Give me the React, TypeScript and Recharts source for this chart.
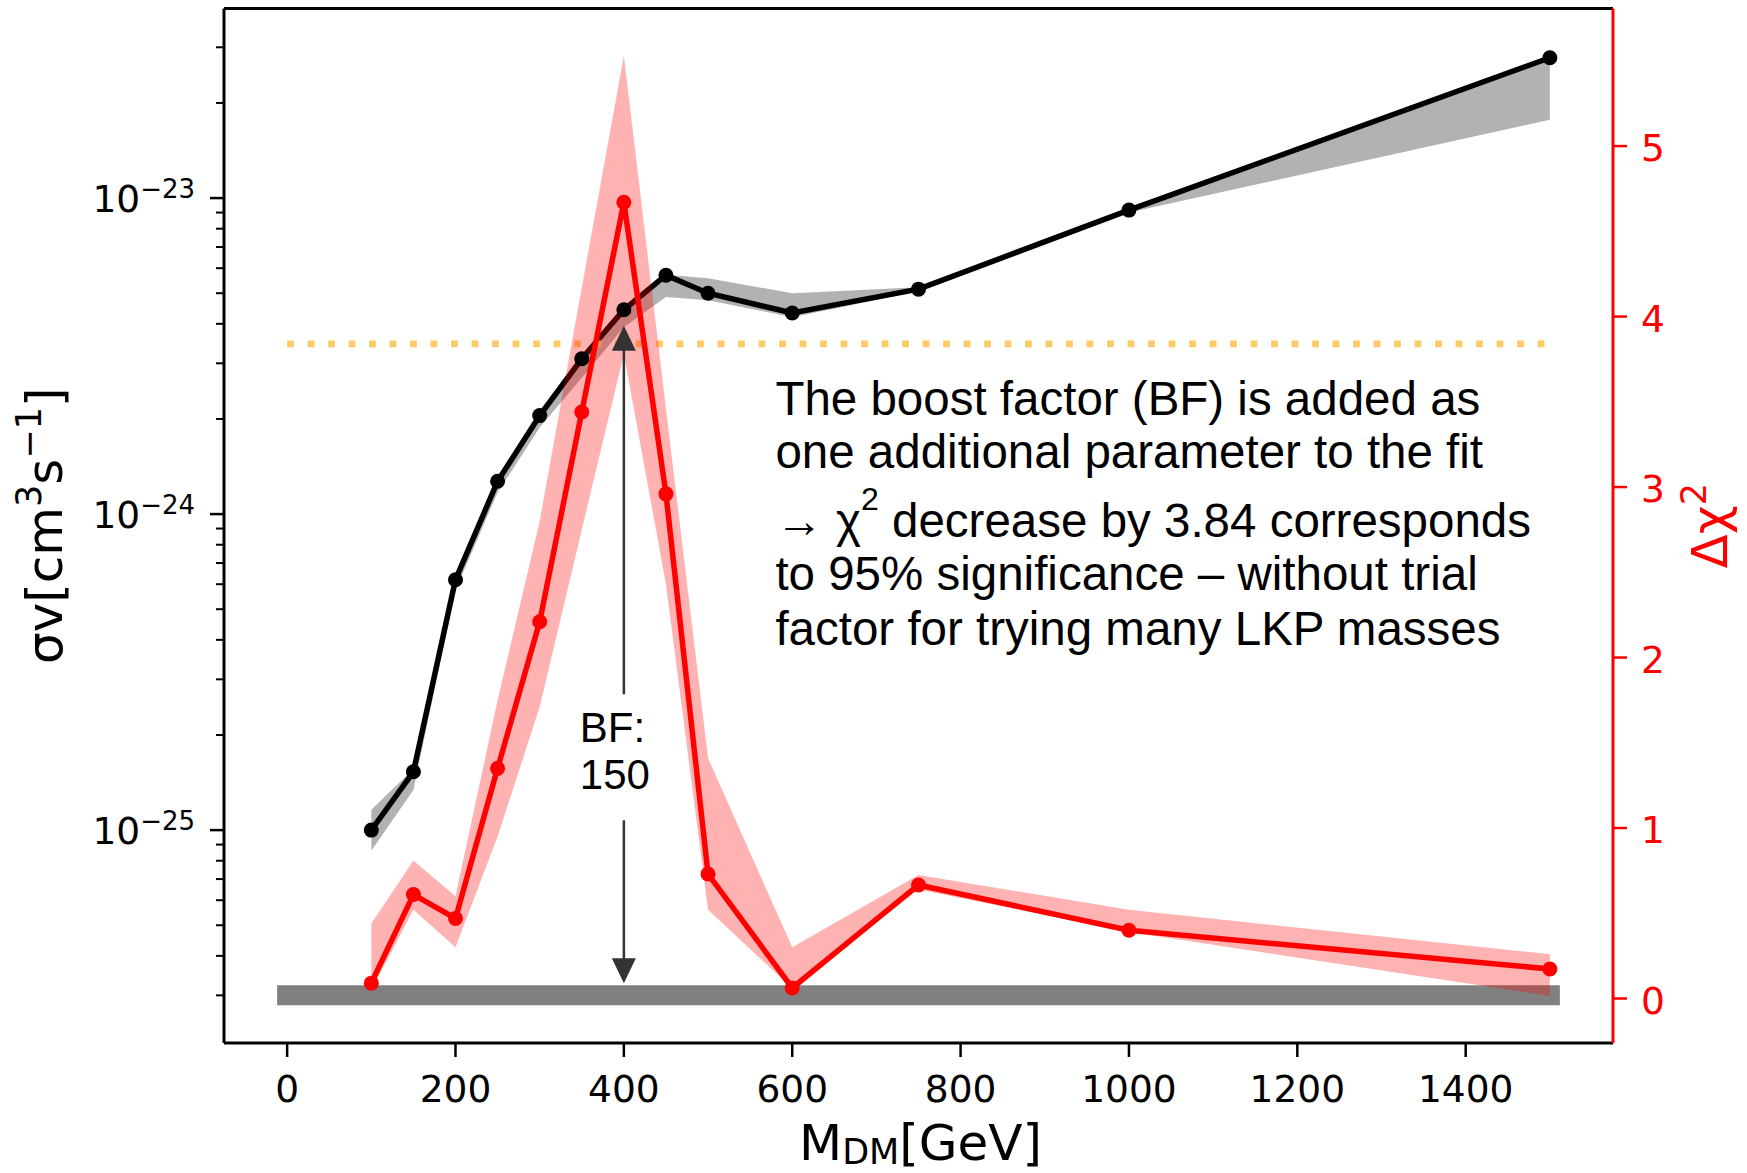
import React from 'react';
import { ComposedChart, Line, Area, XAxis, YAxis, ReferenceLine, ReferenceDot } from 'recharts';

// ---------------- data ----------------
const masses = [100, 150, 200, 250, 300, 350, 400, 450, 500, 600, 750, 1000, 1500];

// sigma v [cm^3 s^-1] (left, log axis)
const sigmaV = [1.0e-25, 1.53e-25, 6.2e-25, 1.27e-24, 2.05e-24, 3.1e-24, 4.43e-24, 5.7e-24, 5.0e-24, 4.33e-24, 5.15e-24, 9.16e-24, 2.78e-23];
const sigmaLow = [8.6e-26, 1.34e-25, 5.75e-25, 1.17e-24, 1.88e-24, 2.7e-24, 3.9e-24, 4.86e-24, 4.75e-24, 4.2e-24, 5.07e-24, 9.0e-24, 1.77e-23];
const sigmaHigh = [1.16e-25, 1.56e-25, 6.25e-25, 1.28e-24, 2.07e-24, 3.12e-24, 4.45e-24, 5.72e-24, 5.58e-24, 5.0e-24, 5.22e-24, 9.3e-24, 2.8e-23];

// delta chi^2 (right axis)
const deltaChi2 = [0.09, 0.61, 0.47, 1.35, 2.21, 3.44, 4.67, 2.96, 0.73, 0.062, 0.666, 0.4, 0.173];
const deltaLow = [0.05, 0.52, 0.3, 0.95, 1.71, 2.75, 3.78, 2.43, 0.52, 0.06, 0.64, 0.39, 0.015];
const deltaHigh = [0.44, 0.81, 0.6, 1.75, 2.8, 4.17, 5.53, 3.46, 1.41, 0.3, 0.725, 0.52, 0.26];

// reference levels / annotations
const backgroundLevel = 3e-26; // gray bar (left axis)
const barRange = [0, 1500];
const significanceLevel = 3.84; // orange dotted (right axis)
const boostMass = 400;
const boostLabel = ['BF:', '150'];
const noteLines = [
  'The boost factor (BF) is added as',
  'one additional parameter to the fit',
  '',
  'to 95% significance \u2013 without trial',
  'factor for trying many LKP masses',
];
const noteChiPrefix = '\u2192 \u03c7';
const noteChiSup = '2';
const noteChiSuffix = ' decrease by 3.84 corresponds';

// axes
const X_DOMAIN: [number, number] = [-75, 1575];
const LEFT_DOMAIN: [number, number] = [2.12e-26, 3.98e-23];
const RIGHT_DOMAIN: [number, number] = [-0.261, 5.807];
const xTicks = [0, 200, 400, 600, 800, 1000, 1200, 1400];
const rightTicks = [0, 1, 2, 3, 4, 5];
const leftTicks = [
  3e-26, 4e-26, 5e-26, 6e-26, 7e-26, 8e-26, 9e-26,
  1e-25, 2e-25, 3e-25, 4e-25, 5e-25, 6e-25, 7e-25, 8e-25, 9e-25,
  1e-24, 2e-24, 3e-24, 4e-24, 5e-24, 6e-24, 7e-24, 8e-24, 9e-24,
  1e-23, 2e-23, 3e-23,
];

const data = masses.map((m, i) => ({
  m,
  sv: sigmaV[i],
  svBand: [sigmaLow[i], sigmaHigh[i]],
  d: deltaChi2[i],
  dBand: [deltaLow[i], deltaHigh[i]],
}));

const FONT = '"DejaVu Sans", "Liberation Sans", sans-serif';
const NOTE_FONT = '"Liberation Sans", Arial, sans-serif';
const RED = '#ff0000';

// ---------------- ticks ----------------
const LeftTick = (props: any) => {
  const { x, y, payload } = props;
  const v = payload.value;
  const lg = Math.log10(v);
  const major = Math.abs(lg - Math.round(lg)) < 1e-6;
  if (!major) {
    return <line x1={x - 8} x2={x} y1={y} y2={y} stroke="#000" strokeWidth={2} />;
  }
  const exp = Math.round(lg);
  return (
    <g>
      <line x1={x - 14} x2={x} y1={y} y2={y} stroke="#000" strokeWidth={2.5} />
      <text x={x - 29} y={y + 14} textAnchor="end" fontFamily={FONT} fontSize={37.5} fill="#000">
        <tspan>10</tspan>
        <tspan dy={-14} fontSize={26}>{`\u2212${Math.abs(exp)}`}</tspan>
      </text>
    </g>
  );
};

const BottomTick = (props: any) => {
  const { x, y, payload } = props;
  return (
    <g>
      <line x1={x} x2={x} y1={y} y2={y + 14} stroke="#000" strokeWidth={2.5} />
      <text x={x} y={y + 59} textAnchor="middle" fontFamily={FONT} fontSize={37.5} fill="#000">
        {payload.value}
      </text>
    </g>
  );
};

const RightTick = (props: any) => {
  const { x, y, payload } = props;
  return (
    <g>
      <line x1={x} x2={x + 14} y1={y} y2={y} stroke={RED} strokeWidth={2.5} />
      <text x={x + 28} y={y + 15} textAnchor="start" fontFamily={FONT} fontSize={37.5} fill={RED}>
        {payload.value}
      </text>
    </g>
  );
};

// ---------------- labels ----------------
const LeftLabel = (props: any) => {
  const vb = props.viewBox || { x: 0, y: 0, width: 224, height: 1035 };
  const cx = vb.x + 62;
  const cy = vb.y + vb.height / 2;
  return (
    <text x={cx} y={cy} textAnchor="middle" transform={`rotate(-90, ${cx}, ${cy})`} fontFamily={FONT} fontSize={50} fill="#000">
      <tspan>{'\u03c3v[cm'}</tspan>
      <tspan dy={-21} fontSize={35}>3</tspan>
      <tspan dy={21}>s</tspan>
      <tspan dy={-21} fontSize={35}>{'\u22121'}</tspan>
      <tspan dy={21}>]</tspan>
    </text>
  );
};

const RightLabel = (props: any) => {
  const vb = props.viewBox || { x: 1613, y: 0, width: 134, height: 1035 };
  const cx = vb.x + 114;
  const cy = vb.y + vb.height / 2;
  return (
    <text x={cx} y={cy} textAnchor="middle" transform={`rotate(-90, ${cx}, ${cy})`} fontFamily={FONT} fontSize={50} fill={RED}>
      <tspan>{'\u0394\u03c7'}</tspan>
      <tspan dy={-21} fontSize={35}>2</tspan>
    </text>
  );
};

const BottomLabel = (props: any) => {
  const vb = props.viewBox || { x: 224, y: 1043, width: 1389, height: 130 };
  const cx = vb.x + vb.width / 2 + 2;
  const cy = vb.y + 117;
  return (
    <text x={cx} y={cy} textAnchor="middle" fontFamily={FONT} fontSize={50} fill="#000">
      <tspan>M</tspan>
      <tspan dy={4} fontSize={35}>DM</tspan>
      <tspan dy={-4}>[GeV]</tspan>
    </text>
  );
};

// ---------------- annotation shapes ----------------
const ArrowShape = (props: any) => {
  const { x1, y1, x2, y2 } = props;
  if ([x1, y1, x2, y2].some((v) => typeof v !== 'number' || isNaN(v))) return null;
  const x = (x1 + x2) / 2;
  const top = Math.min(y1, y2) + 16;
  const bottom = Math.max(y1, y2) - 12;
  const hl = 25;
  const hw = 12;
  const col = '#333333';
  return (
    <g>
      <line x1={x} x2={x} y1={top + hl - 2} y2={bottom - hl + 2} stroke={col} strokeWidth={2.5} />
      <polygon points={`${x},${top} ${x - hw},${top + hl} ${x + hw},${top + hl}`} fill={col} />
      <polygon points={`${x},${bottom} ${x - hw},${bottom - hl} ${x + hw},${bottom - hl}`} fill={col} />
    </g>
  );
};

const BoostBox = (props: any) => {
  const { cx, cy } = props;
  if (typeof cx !== 'number' || typeof cy !== 'number') return null;
  return (
    <g>
      <rect x={cx - 60} y={cy - 63} width={104} height={126} fill="#ffffff" />
      <text x={cx - 44} y={cy - 15} fontFamily={NOTE_FONT} fontSize={42} fill="#000">{boostLabel[0]}</text>
      <text x={cx - 44} y={cy + 32} fontFamily={NOTE_FONT} fontSize={42} fill="#000">{boostLabel[1]}</text>
    </g>
  );
};

const lineOffsets = [0, 53, 122, 175, 230];

const NoteText = (props: any) => {
  const { cx, cy } = props;
  if (typeof cx !== 'number' || typeof cy !== 'number') return null;
  return (
    <g fontFamily={NOTE_FONT} fontSize={47.5} fill="#000">
      {noteLines.map((t, i) =>
        i === 2 ? (
          <text key={i} x={cx} y={cy + lineOffsets[i]}>
            <tspan>{noteChiPrefix}</tspan>
            <tspan dy={-27} fontSize={32}>{noteChiSup}</tspan>
            <tspan dy={27}>{noteChiSuffix}</tspan>
          </text>
        ) : (
          <text key={i} x={cx} y={cy + lineOffsets[i]}>{t}</text>
        )
      )}
    </g>
  );
};

export default function App() {
  return (
    <div style={{ width: 1747, height: 1173, background: '#fff' }}>
      <style>{'body{margin:0;background:#fff}'}</style>
      <ComposedChart
        width={1747}
        height={1173}
        data={data}
        margin={{ top: 8.5, right: 0, bottom: 0, left: 0 }}
      >
        <XAxis
          dataKey="m"
          type="number"
          domain={X_DOMAIN}
          ticks={xTicks}
          interval={0}
          allowDataOverflow
          height={130}
          tickSize={0}
          tickMargin={0}
          tickLine={false}
          tick={<BottomTick />}
          axisLine={{ stroke: '#000', strokeWidth: 3 }}
          label={(p: any) => <BottomLabel {...p} />}
        />
        <YAxis
          yAxisId="left"
          orientation="left"
          scale="log"
          type="number"
          domain={LEFT_DOMAIN}
          ticks={leftTicks}
          interval={0}
          allowDataOverflow
          width={224}
          tickSize={0}
          tickMargin={0}
          tickLine={false}
          tick={<LeftTick />}
          axisLine={{ stroke: '#000', strokeWidth: 3 }}
          label={(p: any) => <LeftLabel {...p} />}
        />
        <YAxis
          yAxisId="right"
          orientation="right"
          type="number"
          domain={RIGHT_DOMAIN}
          ticks={rightTicks}
          interval={0}
          allowDataOverflow
          width={134}
          tickSize={0}
          tickMargin={0}
          tickLine={false}
          tick={<RightTick />}
          axisLine={{ stroke: RED, strokeWidth: 3 }}
          label={(p: any) => <RightLabel {...p} />}
        />

        {/* top spine */}
        <ReferenceLine yAxisId="left" y={LEFT_DOMAIN[1]} stroke="#000" strokeWidth={3} ifOverflow="visible" />

        <Area
          yAxisId="left"
          dataKey="svBand"
          type="linear"
          stroke="none"
          fill="#000000"
          fillOpacity={0.3}
          isAnimationActive={false}
          activeDot={false}
          zIndex={100}
        />
        <Line
          yAxisId="left"
          dataKey="sv"
          type="linear"
          stroke="#000"
          strokeWidth={5.5}
          dot={{ r: 7.5, fill: '#000', stroke: 'none' }}
          activeDot={false}
          isAnimationActive={false}
          zIndex={110}
        />
        <ReferenceLine
          yAxisId="left"
          segment={[{ x: barRange[0], y: backgroundLevel }, { x: barRange[1], y: backgroundLevel }]}
          stroke="#808080"
          strokeWidth={20}
          strokeLinecap="square"
          ifOverflow="visible"
          zIndex={120}
        />
        <ReferenceLine
          yAxisId="right"
          segment={[{ x: barRange[0], y: significanceLevel }, { x: barRange[1], y: significanceLevel }]}
          stroke="#ffc966"
          strokeWidth={6.7}
          strokeDasharray="6.7 13.8"
          ifOverflow="visible"
          zIndex={130}
        />
        <Area
          yAxisId="right"
          dataKey="dBand"
          type="linear"
          stroke="none"
          fill={RED}
          fillOpacity={0.3}
          isAnimationActive={false}
          activeDot={false}
          zIndex={140}
        />
        <Line
          yAxisId="right"
          dataKey="d"
          type="linear"
          stroke={RED}
          strokeWidth={5.5}
          dot={{ r: 7.5, fill: RED, stroke: 'none' }}
          activeDot={false}
          isAnimationActive={false}
          zIndex={150}
        />
        <ReferenceLine
          yAxisId="left"
          segment={[{ x: boostMass, y: backgroundLevel }, { x: boostMass, y: sigmaV[masses.indexOf(boostMass)] }]}
          shape={(p: any) => <ArrowShape {...p} />}
          ifOverflow="visible"
          zIndex={160}
        />
        <ReferenceDot
          yAxisId="left"
          x={boostMass}
          y={1.7e-25}
          r={1}
          shape={(p: any) => <BoostBox {...p} />}
          ifOverflow="visible"
          zIndex={170}
        />
        <ReferenceDot
          yAxisId="right"
          x={580}
          y={3.424}
          r={1}
          shape={(p: any) => <NoteText {...p} />}
          ifOverflow="visible"
          zIndex={180}
        />
      </ComposedChart>
    </div>
  );
}
